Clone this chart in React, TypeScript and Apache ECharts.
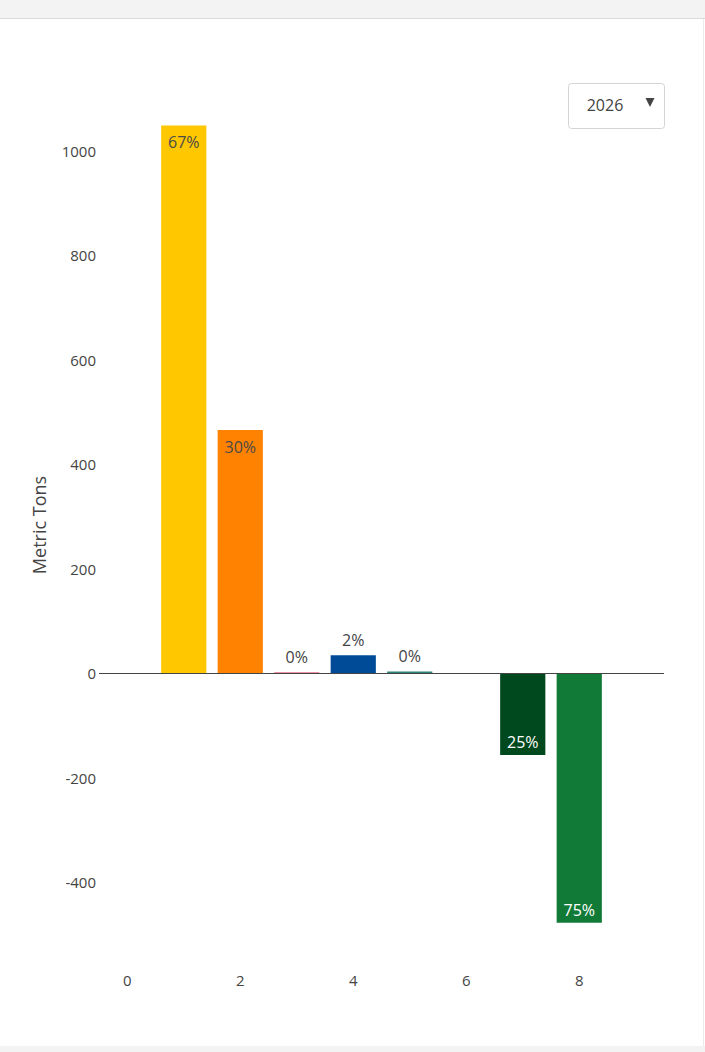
import React, { useEffect, useRef } from "react";
import * as echarts from "echarts";

const categories = ["0", "1", "2", "3", "4", "5", "6", "7", "8", "9"];
const values = [0, 1048, 465, 1, 34, 3, 0, -157, -478, 0];
const pctLabels = ["", "67%", "30%", "0%", "2%", "0%", "", "25%", "75%", ""];
const barColors = [
  "#ffc700",
  "#ffc700",
  "#ff8200",
  "#d6254d",
  "#004b98",
  "#2a8577",
  "#999999",
  "#00481e",
  "#117a37",
  "#999999",
];
const labelPlacement = ["top", "insideTop", "insideTop", "top", "top", "top", "top", "insideBottom", "insideBottom", "top"];
const labelColors = ["#444", "#4a4a4a", "#4a4a4a", "#444", "#444", "#444", "#444", "#ffffff", "#ffffff", "#444"];
const yearOptions = ["2026"];
const yTitle = "Metric Tons";

export default function App() {
  const ref = useRef<HTMLDivElement>(null);
  useEffect(() => {
    if (!ref.current) return;
    const chart = echarts.init(ref.current, null, { renderer: "svg" });
    const font = "'Open Sans', 'Noto Sans', sans-serif";
    const data = values.map((v, i) => ({
      value: v,
      itemStyle: { color: barColors[i] },
      label: {
        show: pctLabels[i] !== "",
        position: labelPlacement[i],
        distance: labelPlacement[i] === "top" ? 7 : labelPlacement[i] === "insideTop" ? 9 : 5,
        color: labelColors[i],
        formatter: () => pctLabels[i],
      },
    }));
    chart.setOption({
      animation: false,
      backgroundColor: "#ffffff",
      textStyle: { fontFamily: font },
      grid: { left: 99, right: 41, top: 46, height: 940.5 },
      xAxis: {
        type: "category",
        data: categories,
        offset: -22,
        axisLine: { show: false },
        axisTick: { show: false },
        splitLine: { show: false },
        axisLabel: { interval: 1, color: "#444", fontSize: 15, fontFamily: font, margin: 8 },
      },
      yAxis: {
        type: "value",
        min: -600,
        max: 1200,
        interval: 200,
        axisLine: { show: false },
        axisTick: { show: false },
        splitLine: { show: false },
        axisLabel: {
          showMinLabel: false,
          showMaxLabel: false,
          color: "#444",
          fontSize: 15,
          fontFamily: font,
          margin: 3,
          formatter: (v: number) => String(v),
        },
      },
      series: [
        {
          type: "bar",
          data,
          barWidth: "80%",
          label: { fontSize: 16, fontFamily: font },
          markLine: {
            silent: true,
            symbol: ["none", "none"],
            label: { show: false },
            lineStyle: { color: "#444", width: 1, type: "solid" },
            data: [{ yAxis: 0 }],
          },
        },
      ],
      graphic: [
        {
          type: "rect",
          shape: { x: 0, y: 0, width: 705, height: 18 },
          style: { fill: "#f3f3f3" },
        },
        {
          type: "line",
          shape: { x1: 0, y1: 18.5, x2: 705, y2: 18.5 },
          style: { stroke: "#dadada", lineWidth: 1 },
        },
        {
          type: "line",
          shape: { x1: 703.5, y1: 19, x2: 703.5, y2: 1046 },
          style: { stroke: "#ececec", lineWidth: 1 },
        },
        {
          type: "rect",
          shape: { x: 0, y: 1046, width: 705, height: 6 },
          style: { fill: "#f3f3f3" },
        },
        {
          type: "text",
          x: 39,
          y: 525,
          rotation: Math.PI / 2,
          style: {
            text: yTitle,
            fill: "#444",
            fontSize: 18,
            fontFamily: font,
            align: "center",
            verticalAlign: "middle",
          },
        },
        {
          type: "rect",
          shape: { x: 568.5, y: 83.5, width: 96, height: 45, r: 3 },
          style: { fill: "#ffffff", stroke: "#d4d4d4", lineWidth: 1 },
        },
        {
          type: "text",
          x: 605,
          y: 105,
          style: {
            text: yearOptions[0],
            fill: "#444",
            fontSize: 16,
            fontFamily: font,
            align: "center",
            verticalAlign: "middle",
          },
        },
        {
          type: "polygon",
          shape: { points: [[645.5, 98], [654.5, 98], [650, 107]] },
          style: { fill: "#444" },
        },
      ],
    });
    return () => chart.dispose();
  }, []);
  return (
    <div
      ref={ref}
      style={{ position: "absolute", left: 0, top: 0, width: 705, height: 1052 }}
    />
  );
}
